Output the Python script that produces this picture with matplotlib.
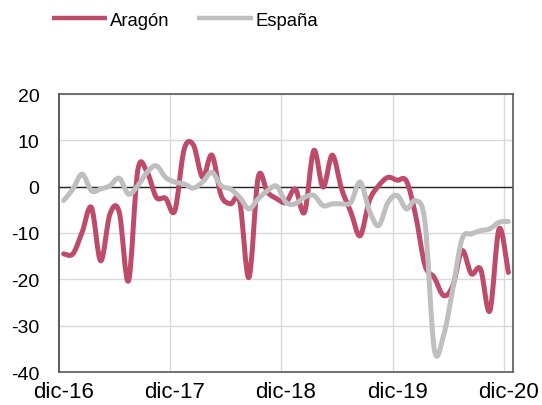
import matplotlib
matplotlib.use("Agg")
import matplotlib.pyplot as plt
from matplotlib.path import Path
from matplotlib.patches import PathPatch
from matplotlib.lines import Line2D
import numpy as np

plt.rcParams['font.family'] = ['Liberation Sans', 'DejaVu Sans']
plt.rcParams['axes.unicode_minus'] = False

tick_labels = ["dic-16", "dic-17", "dic-18", "dic-19", "dic-20"]
aragon = [-14.5, -14.5, -9.8, -4.5, -16.0, -5.9, -5.5, -20.3, 3.5, 3.2, -2.3, -2.5,
          -5.2, 8.0, 9.0, 2.0, 6.8, -1.9, -3.7, -3.2, -19.6, 2.0, -1.2, -2.6,
          -3.4, -0.5, -5.5, 7.8, -0.1, 6.8, -0.5, -5.5, -10.6, -3.0, 0.2, 2.0,
          1.4, 1.2, -6.3, -17.0, -19.6, -23.5, -21.4, -13.8, -18.8, -17.8, -26.8, -9.1,
          -18.5]
espana = [-3.0, -0.5, 2.7, -0.9, -0.5, 0.2, 1.8, -1.6, 0.2, 3.1, 4.5, 2.0,
          1.0, 0.6, -0.3, 1.0, 3.1, 0.2, -0.5, -2.3, -4.8, -2.6, -0.9, 0.1,
          -3.4, -3.7, -2.3, -1.9, -4.1, -3.7, -3.7, -3.4, 1.0, -5.2, -8.4, -3.4,
          -1.9, -4.8, -3.0, -7.7, -35.0, -32.2, -22.1, -11.3, -10.2, -9.5, -9.1, -7.7,
          -7.5]
series_names = ["Aragón", "España"]
colors = ["#BE4B69", "#BFBFBF"]


def smooth_path(ys):
    xs = np.arange(len(ys), dtype=float)
    pts = np.column_stack([xs, np.asarray(ys, dtype=float)])
    n = len(pts)
    verts = [pts[0]]
    codes = [Path.MOVETO]
    for i in range(n - 1):
        p0 = pts[i - 1] if i > 0 else pts[i]
        p1 = pts[i]
        p2 = pts[i + 1]
        p3 = pts[i + 2] if i + 2 < n else pts[i + 1]
        c1 = p1 + (p2 - p0) / 6.0
        c2 = p2 - (p3 - p1) / 6.0
        verts += [c1, c2, p2]
        codes += [Path.CURVE4] * 3
    return Path(np.array(verts), codes)


fig = plt.figure(figsize=(5.42, 4.06), dpi=100)
ax = fig.add_axes([59 / 542, 1 - 373 / 406, (513 - 59) / 542, (373 - 95) / 406])

ax.set_xlim(-0.5, len(aragon) - 0.5)
ax.set_ylim(-40, 20)
ax.set_yticks(np.arange(-40, 21, 10))
ax.set_xticks(np.arange(0, len(aragon), 12))
ax.set_xticklabels(tick_labels)

for y in np.arange(-30, 21, 10):
    ax.axhline(y, color="#D9D9D9", lw=1.0, zorder=1)
for x in np.arange(11.5, len(aragon), 12):
    ax.axvline(x, color="#D9D9D9", lw=1.0, zorder=1)
ax.axhline(0, color="#262626", lw=1.0, zorder=2)

handles = []
for ys, c, name in zip([aragon, espana], colors, series_names):
    patch = PathPatch(smooth_path(ys), fill=False, edgecolor=c, lw=3.6,
                      capstyle="round", joinstyle="round", zorder=3)
    ax.add_patch(patch)
    handles.append(Line2D([], [], color=c, lw=3.2, solid_capstyle="butt", label=name))

for s in ax.spines.values():
    s.set_color("#595959")
    s.set_linewidth(1.2)
ax.spines["left"].set_color("#404040")
ax.tick_params(axis="both", length=0, colors="black")
ax.tick_params(axis="y", pad=14, labelsize=14)
ax.tick_params(axis="x", pad=6.5, labelsize=16)

fig.legend(handles=handles, loc="center left", bbox_to_anchor=(52 / 542, 1 - 21 / 406),
           ncol=2, frameon=False, fontsize=13.3, handlelength=3.0,
           handletextpad=0.15, columnspacing=1.5, borderpad=0, borderaxespad=0)

fig.savefig("out.png", dpi=100)
